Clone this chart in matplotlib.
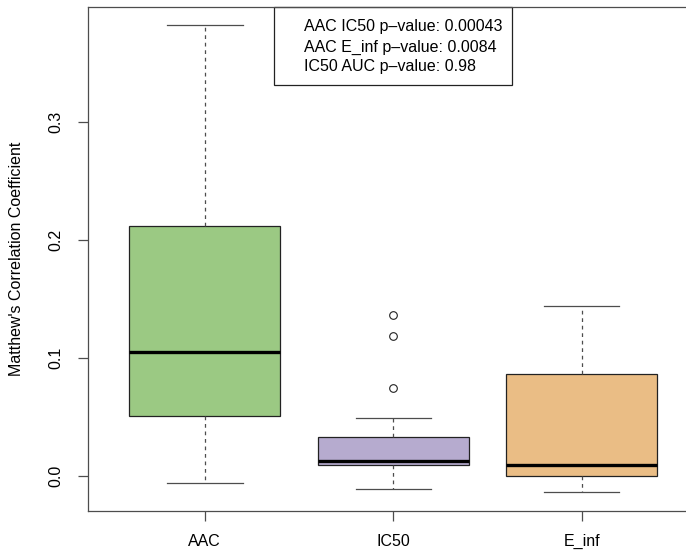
import matplotlib
matplotlib.use("Agg")
import matplotlib.pyplot as plt
from matplotlib.patches import Rectangle

plt.rcParams['font.family'] = ['Liberation Sans', 'DejaVu Sans']

# data
groups = ["AAC", "IC50", "E_inf"]
whisker_low = [-0.0062, -0.0110, -0.0138]
box_low = [0.0510, 0.0093, -0.0003]
medians = [0.1048, 0.0127, 0.0091]
box_high = [0.2121, 0.0333, 0.0862]
whisker_high = [0.3820, 0.0490, 0.1443]
outliers = [[], [0.1364, 0.1186, 0.0746], []]
colors = ["#9BC983", "#B6ABCF", "#EABD85"]
pvalue_lines = [
    "AAC IC50 p\u2013value: 0.00043",
    "AAC E_inf p\u2013value: 0.0084",
    "IC50 AUC p\u2013value: 0.98",
]

fig = plt.figure(figsize=(6.86, 5.52), dpi=100)
ax = fig.add_axes([88 / 686, 1 - 511 / 552, 610.6 / 686, 504 / 552])

stats = []
for i, g in enumerate(groups):
    stats.append({
        "label": g, "whislo": whisker_low[i], "q1": box_low[i], "med": medians[i],
        "q3": box_high[i], "whishi": whisker_high[i], "fliers": outliers[i],
    })

frame_col = "#4d4d4d"
fs = 11.5
bp = ax.bxp(stats, positions=[1, 2, 3], widths=0.8, patch_artist=True,
            boxprops=dict(edgecolor="#222222", linewidth=0.9),
            medianprops=dict(color="black", linewidth=2.4, solid_capstyle="butt"),
            whiskerprops=dict(color=frame_col, linewidth=0.9, linestyle=(0, (3, 3))),
            capprops=dict(color=frame_col, linewidth=0.9),
            capwidths=0.4,
            flierprops=dict(marker="o", markerfacecolor="none", markeredgecolor="#222222",
                            markersize=5.5, markeredgewidth=0.8))
for patch, c in zip(bp["boxes"], colors):
    patch.set_facecolor(c)

ax.set_xlim(0.38, 3.62)
ax.set_ylim(-0.02966, 0.3975)
ax.set_yticks([0.0, 0.1, 0.2, 0.3])
ax.set_yticklabels(["0.0", "0.1", "0.2", "0.3"], rotation=90, va="center")
ax.set_xticks([1, 2, 3])
ax.set_xticklabels(groups)
ax.tick_params(axis="both", direction="out", length=7.5, width=0.9, color=frame_col,
               labelsize=fs)
ax.tick_params(axis="x", pad=9)
ax.tick_params(axis="y", pad=10)
for s in ax.spines.values():
    s.set_color(frame_col)
    s.set_linewidth(0.9)
ax.set_ylabel("Matthew's Correlation Coefficient", fontsize=fs, labelpad=18)

# p-value box at the top centre
ax.add_patch(Rectangle((0.3046, 0.845), 0.3898, 0.155, transform=ax.transAxes,
                       fill=False, edgecolor="#222222", linewidth=0.9, clip_on=False))
for k, line in enumerate(pvalue_lines):
    ax.text(0.3537, (511 - (27 + 20 * k)) / 504, line, transform=ax.transAxes,
            fontsize=fs, va="center", ha="left")

fig.savefig("out.png", dpi=100)
